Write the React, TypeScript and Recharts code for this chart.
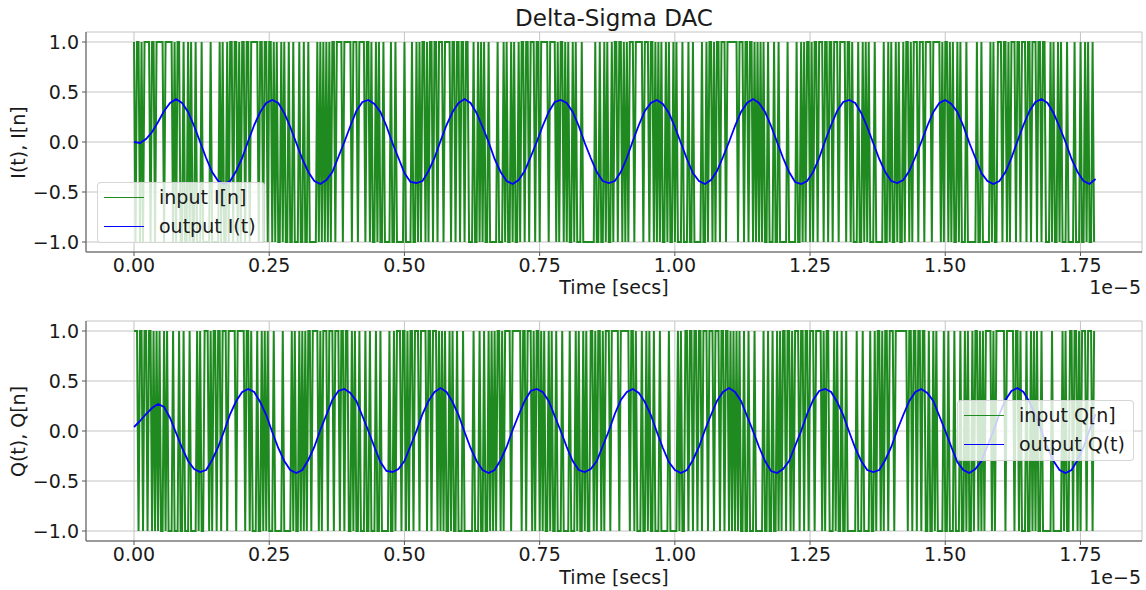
import { LineChart, Line, XAxis, YAxis, CartesianGrid } from 'recharts'

// one signal period is 0.1778 (x1e-5 s): 64 modulator bits, 16 output samples
const BIT_STEP = 0.1778 / 64
const OUT_STEP = 0.1778 / 16

const xTicks = [0, 0.25, 0.5, 0.75, 1, 1.25, 1.5, 1.75]
const yTicks = [-1, -0.5, 0, 0.5, 1]

// modulator bitstreams, one row per period; '1' = +1, '0' = -1
const iBitRows = [
  '10110101 11101101 11110111 11010110 01001010 01000100 00010000 01010010',
  '11011010 11011011 11101101 10110101 00101001 00100010 01001000 00101010',
  '10101101 11101111 10111011 11011010 01010010 00010010 00001000 01001010',
  '11010110 11011101 11101101 10110110 00100101 01001000 00100010 10010100',
  '10110110 11101101 11110111 10101101 01001010 00100000 00010010 01010010',
  '11011010 10111011 11101110 11010101 00101001 01000100 01001000 00100101',
  '10101101 11011111 11011101 10110101 01010010 00100100 00010000 01001010',
  '11010110 11101101 10111011 11011010 00100101 01000100 00010010 10010100',
  '10110101 11011101 11101111 10101101 01001010 00100000 01001000 00101001',
  '11011010 11101101 11011011 10110110 00101001 01000100 00100010 01010010',
]

const qBitRows = [
  '11101101 10110101 01001010 00100010 01000100 00101001 11010110 11011101',
  '11110111 11011010 00100101 01000100 00010000 01010010 10101101 11101011',
  '10111011 10110110 01010010 00100100 01001000 00100101 11011010 11011101',
  '11101101 11010101 00101001 00010000 00100010 01001010 10110101 11101111',
  '11011011 10101101 01001010 01000100 00100010 10010100 11010110 10111011',
  '11101111 11011010 00100101 00100010 00001000 00101001 10110110 11011101',
  '11011101 10110101 01010010 01000100 00010010 01001010 11011010 11101101',
  '10111011 11010110 00101001 00100000 01000100 00100101 10101101 11011111',
  '11101101 10110110 01001010 00010010 00100010 01010010 11010101 11101011',
  '11110111 11011010 00100101 01001000 00010000 00101001 10110101 11011101',
]

// reconstruction filter output
const iOutput = [
  0.0, -0.01, 0.03, 0.1, 0.2, 0.31, 0.39, 0.43, 0.39, 0.3, 0.16, 0.0, -0.16, -0.3, -0.39, -0.42,
  -0.39, -0.29, -0.16, 0.01, 0.17, 0.3, 0.39, 0.42, 0.39, 0.29, 0.15, -0.01, -0.17, -0.3, -0.39, -0.42,
  -0.38, -0.3, -0.15, 0.0, 0.16, 0.31, 0.4, 0.42, 0.38, 0.3, 0.16, -0.01, -0.16, -0.31, -0.4, -0.41,
  -0.39, -0.29, -0.16, 0.01, 0.17, 0.3, 0.39, 0.43, 0.39, 0.29, 0.15, 0.0, -0.17, -0.3, -0.39, -0.42,
  -0.38, -0.29, -0.15, 0.0, 0.16, 0.3, 0.4, 0.42, 0.39, 0.3, 0.16, -0.01, -0.16, -0.3, -0.39, -0.41,
  -0.39, -0.3, -0.16, 0.01, 0.17, 0.31, 0.39, 0.42, 0.38, 0.29, 0.15, -0.01, -0.17, -0.31, -0.39, -0.42,
  -0.38, -0.29, -0.15, 0.0, 0.16, 0.3, 0.39, 0.43, 0.39, 0.3, 0.16, 0.0, -0.16, -0.3, -0.4, -0.42,
  -0.39, -0.3, -0.16, 0.01, 0.17, 0.31, 0.4, 0.42, 0.39, 0.29, 0.15, -0.01, -0.17, -0.3, -0.39, -0.41,
  -0.38, -0.29, -0.15, 0.0, 0.16, 0.3, 0.39, 0.42, 0.38, 0.3, 0.16, -0.01, -0.16, -0.31, -0.39, -0.42,
  -0.39, -0.3, -0.16, 0.01, 0.17, 0.31, 0.4, 0.43, 0.39, 0.29, 0.15, 0.0, -0.17, -0.3, -0.39, -0.42,
  -0.37,
]

const qOutput = [
  0.04, 0.1, 0.17, 0.23, 0.27, 0.24, 0.13, -0.02, -0.17, -0.3, -0.38, -0.41, -0.39, -0.29, -0.16, 0.0,
  0.17, 0.3, 0.39, 0.42, 0.39, 0.29, 0.16, -0.01, -0.17, -0.3, -0.39, -0.42, -0.39, -0.29, -0.16, 0.01,
  0.16, 0.31, 0.4, 0.42, 0.38, 0.3, 0.15, 0.0, -0.16, -0.31, -0.4, -0.41, -0.38, -0.3, -0.15, 0.0,
  0.17, 0.3, 0.39, 0.43, 0.39, 0.29, 0.16, -0.01, -0.17, -0.3, -0.39, -0.42, -0.39, -0.29, -0.16, 0.01,
  0.16, 0.3, 0.4, 0.42, 0.39, 0.3, 0.15, 0.0, -0.16, -0.3, -0.39, -0.41, -0.38, -0.3, -0.15, 0.0,
  0.17, 0.31, 0.39, 0.42, 0.38, 0.29, 0.16, -0.01, -0.17, -0.31, -0.39, -0.42, -0.39, -0.29, -0.16, 0.01,
  0.16, 0.3, 0.39, 0.43, 0.39, 0.3, 0.15, 0.0, -0.16, -0.3, -0.4, -0.42, -0.38, -0.3, -0.15, 0.0,
  0.17, 0.31, 0.4, 0.42, 0.39, 0.29, 0.16, -0.01, -0.17, -0.3, -0.39, -0.41, -0.39, -0.29, -0.16, 0.01,
  0.16, 0.3, 0.39, 0.42, 0.38, 0.3, 0.15, 0.0, -0.16, -0.31, -0.39, -0.42, -0.38, -0.3, -0.15, 0.0,
  0.17, 0.31, 0.4, 0.43, 0.39, 0.29, 0.16, 0.0, -0.17, -0.3, -0.39, -0.42, -0.39, -0.29, -0.16, 0.01,
  0.17,
]

const GREEN = '#1f8a1f'
const BLUE = '#0000ff'
const TEXT = '#1a1a1a'
const FONT = "'DejaVu Sans', sans-serif"

const toBits = (rows: string[]) =>
  rows.join('').replace(/ /g, '').split('').map((c, k) => ({ t: k * BIT_STEP, v: c === '1' ? 1 : -1 }))
const toSeries = (vals: number[]) => vals.map((v, j) => ({ t: j * OUT_STEP, v }))

const fmtY = (v: number) => (v < 0 ? '\u2212' : '') + Math.abs(v).toFixed(1)
const fmtX = (v: number) => v.toFixed(2)

interface PanelProps {
  top: number
  height: number
  marginTop: number
  bits: { t: number; v: number }[]
  out: { t: number; v: number }[]
}

function Panel({ top, height, marginTop, bits, out }: PanelProps) {
  const axisStroke = '#555'
  return (
    <div style={{ position: 'absolute', left: 0, top }}>
      <LineChart width={1146} height={height} margin={{ top: marginTop, right: 4, bottom: 0, left: 0 }}>
        <CartesianGrid stroke="#c4c4c4" strokeWidth={1} />
        <XAxis
          dataKey="t"
          type="number"
          domain={[-0.0888, 1.8638]}
          allowDataOverflow
          ticks={xTicks}
          tickFormatter={fmtX}
          height={height - marginTop - 220}
          tickSize={4}
          tickMargin={3}
          stroke={axisStroke}
          tick={{ fill: TEXT, fontSize: 19 }}
        />
        <XAxis xAxisId="top" orientation="top" type="number" domain={[0, 1]} tick={false} tickLine={false} height={0} stroke={axisStroke} />
        <YAxis
          type="number"
          domain={[-1.1, 1.1]}
          allowDataOverflow
          ticks={yTicks}
          tickFormatter={fmtY}
          width={86}
          tickSize={4}
          tickMargin={3}
          stroke={axisStroke}
          tick={{ fill: TEXT, fontSize: 19 }}
        />
        <YAxis yAxisId="right" orientation="right" type="number" domain={[0, 1]} tick={false} tickLine={false} width={0} stroke={axisStroke} />
        <Line data={bits} dataKey="v" type="linear" stroke={GREEN} strokeWidth={2} dot={false} isAnimationActive={false} />
        <Line data={out} dataKey="v" type="linear" stroke={BLUE} strokeWidth={1.8} dot={false} isAnimationActive={false} />
      </LineChart>
    </div>
  )
}

interface LegendProps {
  left: number
  top: number
  width: number
  items: { name: string; color: string }[]
}

function LegendBox({ left, top, width, items }: LegendProps) {
  return (
    <div
      style={{
        position: 'absolute',
        left,
        top,
        width,
        height: 61,
        boxSizing: 'border-box',
        background: 'rgba(255,255,255,0.8)',
        border: '1px solid rgba(204,204,204,0.8)',
        borderRadius: 4,
      }}
    >
      {items.map((it, i) => (
        <div key={it.name} style={{ position: 'absolute', left: 6, top: 5 + i * 29, height: 19, display: 'flex', alignItems: 'center' }}>
          <span style={{ display: 'inline-block', width: 40, height: 0, borderTop: `1.5px solid ${it.color}` }} />
          <span style={{ marginLeft: 15, fontSize: 19, lineHeight: '19px', color: TEXT, whiteSpace: 'nowrap' }}>{it.name}</span>
        </div>
      ))}
    </div>
  )
}

const textAt = (cx: number, cy: number, size: number) => ({
  position: 'absolute' as const,
  left: cx - 150,
  top: cy - size / 2,
  width: 300,
  fontSize: size,
  lineHeight: `${size}px`,
  textAlign: 'center' as const,
  color: TEXT,
  whiteSpace: 'nowrap' as const,
})

export default function App() {
  const iBits = toBits(iBitRows)
  const qBits = toBits(qBitRows)
  const iOut = toSeries(iOutput)
  const qOut = toSeries(qOutput)

  return (
    <div style={{ position: 'relative', width: 1146, height: 590, background: '#fff', fontFamily: FONT, overflow: 'hidden' }}>
      <style>{'body{margin:0}'}</style>
      <Panel top={0} height={305} marginTop={32} bits={iBits} out={iOut} />
      <Panel top={305} height={285} marginTop={16} bits={qBits} out={qOut} />

      <div style={textAt(614, 18, 23)}>Delta-Sigma DAC</div>

      <div style={{ ...textAt(18, 142, 19), transform: 'rotate(-90deg)' }}>I(t), I[n]</div>
      <div style={{ ...textAt(18, 431, 19), transform: 'rotate(-90deg)' }}>Q(t), Q[n]</div>

      <div style={textAt(614, 287, 19)}>Time [secs]</div>
      <div style={textAt(614, 577, 19)}>Time [secs]</div>

      <div style={{ ...textAt(0, 287, 19), left: 1040, width: 101, textAlign: 'right' }}>1e{'\u2212'}5</div>
      <div style={{ ...textAt(0, 577, 19), left: 1040, width: 101, textAlign: 'right' }}>1e{'\u2212'}5</div>

      <LegendBox
        left={97}
        top={182}
        width={168}
        items={[
          { name: 'input I[n]', color: GREEN },
          { name: 'output I(t)', color: BLUE },
        ]}
      />
      <LegendBox
        left={957}
        top={400}
        width={177}
        items={[
          { name: 'input Q[n]', color: GREEN },
          { name: 'output Q(t)', color: BLUE },
        ]}
      />
    </div>
  )
}
